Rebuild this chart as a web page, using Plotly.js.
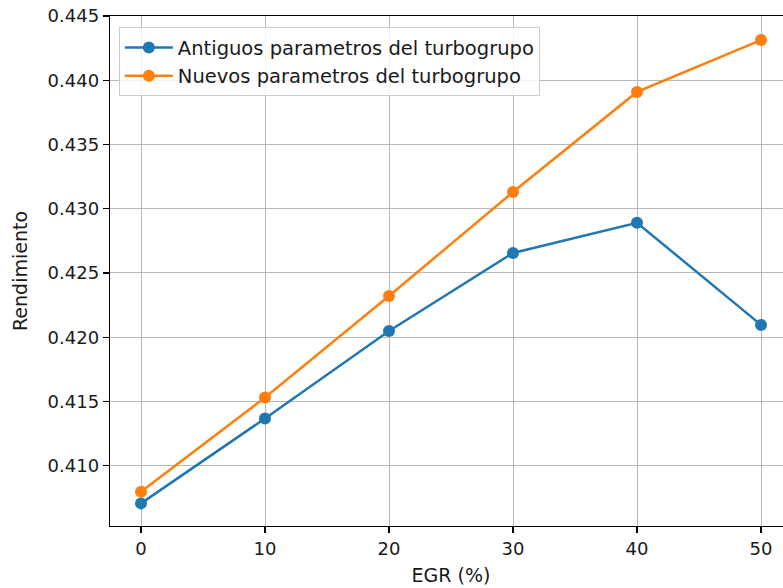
<!DOCTYPE html>
<html>
<head>
<meta charset="utf-8">
<script src="https://cdn.plot.ly/plotly-3.0.1.min.js"></script>
<style>
  html, body { margin: 0; padding: 0; overflow: hidden; background: #fff; }
  #chart { width: 800px; height: 588px; }
</style>
</head>
<body>
<div id="chart"></div>
<script>
// EGR sweep (%)
const egr = [0, 10, 20, 30, 40, 50];
// Efficiency with the old turbocharger parameters
const rendAntiguos = [0.40707, 0.41368, 0.42049, 0.42656, 0.42891, 0.42096];
// Efficiency with the new turbocharger parameters
const rendNuevos = [0.40798, 0.41531, 0.42321, 0.43130, 0.43909, 0.44313];
const xTicks = [0, 10, 20, 30, 40, 50];
const yTicks = [0.410, 0.415, 0.420, 0.425, 0.430, 0.435, 0.440, 0.445];

const FONT = 'DejaVu Sans, sans-serif';
const TICK_SIZE = 18;
const LABEL_SIZE = 19;

const traces = [
  {
    x: egr, y: rendAntiguos, mode: 'lines+markers',
    name: 'Antiguos parametros del turbogrupo',
    line: { color: '#1f77b4', width: 2.5 },
    marker: { color: '#1f77b4', size: 12 }
  },
  {
    x: egr, y: rendNuevos, mode: 'lines+markers',
    name: 'Nuevos parametros del turbogrupo',
    line: { color: '#ff7f0e', width: 2.5 },
    marker: { color: '#ff7f0e', size: 12 }
  }
];

const layout = {
  width: 800, height: 588,
  margin: { l: 110, r: 8, t: 16, b: 62 },
  paper_bgcolor: '#fff', plot_bgcolor: '#fff',
  font: { family: FONT, size: LABEL_SIZE, color: '#000' },
  showlegend: true,
  legend: {
    x: 0.013, y: 0.978, xanchor: 'left', yanchor: 'top',
    bgcolor: 'rgba(255,255,255,0.8)', bordercolor: '#cccccc', borderwidth: 1,
    font: { family: FONT, size: 19.5, color: '#1a1a1a' },
    tracegroupgap: 0, itemwidth: 48
  },
  xaxis: {
    range: [-2.5, 52.5], tickvals: xTicks, ticktext: xTicks.map(String),
    ticks: 'outside', ticklen: 6, tickwidth: 1.3, tickcolor: '#000',
    showline: true, linecolor: '#000', linewidth: 1.3, mirror: true,
    showgrid: true, gridcolor: '#b8b8b8', gridwidth: 1, zeroline: false,
    tickfont: { family: FONT, size: TICK_SIZE, color: '#1a1a1a' },
    title: { text: 'EGR (%)', font: { family: FONT, size: LABEL_SIZE, color: '#1a1a1a' }, standoff: 10 },
    automargin: false
  },
  yaxis: {
    range: [0.40531, 0.4450], tickvals: yTicks, ticktext: yTicks.map(v => v.toFixed(3)),
    ticks: 'outside', ticklen: 6, tickwidth: 1.3, tickcolor: '#000',
    showline: true, linecolor: '#000', linewidth: 1.3, mirror: true,
    showgrid: true, gridcolor: '#b8b8b8', gridwidth: 1, zeroline: false,
    tickfont: { family: FONT, size: TICK_SIZE, color: '#1a1a1a' },
    title: { text: 'Rendimiento', font: { family: FONT, size: LABEL_SIZE, color: '#1a1a1a' }, standoff: 15 },
    automargin: false
  }
};

Plotly.newPlot('chart', traces, layout, { displayModeBar: false, staticPlot: true });
</script>
</body>
</html>
